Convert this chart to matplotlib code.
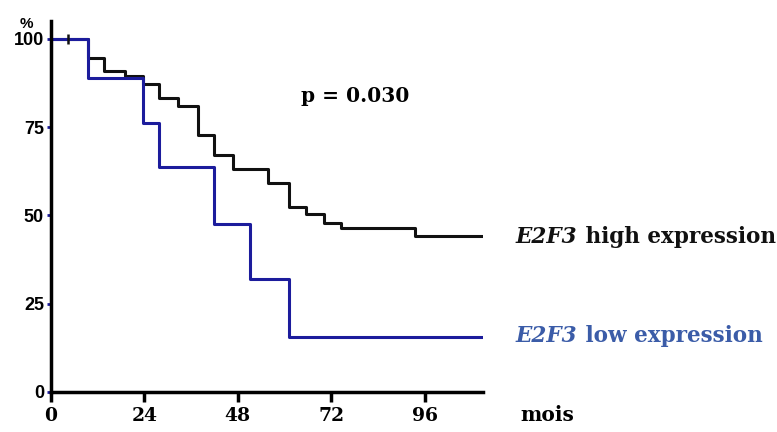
import matplotlib.pyplot as plt

# Kaplan-Meier steps (months, % survival)
t_high = [0, 9.5, 13.7, 19, 23.7, 27.8, 32.6, 37.8, 42, 46.8, 55.8, 61.2, 65.6, 70.2, 74.6, 93.6, 111]
s_high = [100, 94.6, 91, 89.5, 87.2, 83.3, 81, 72.8, 67.1, 63.2, 59.2, 52.4, 50.4, 47.9, 46.5, 44.2, 44.2]
t_low = [0, 9.5, 23.7, 27.8, 42, 51.2, 61.2, 111]
s_low = [100, 89, 76.2, 63.7, 47.6, 32, 15.6, 15.6]
censor_t = [4.3]
censor_s = [100]

x_ticks = [0, 24, 48, 72, 96]
y_ticks = [0, 25, 50, 75, 100]

fig = plt.figure(figsize=(7.77, 4.32), dpi=100)
ax = fig.add_axes([0.0656, 0.0926, 0.556, 0.858])

ax.step(t_high, s_high, where="post", color="#111111", lw=2.2)
ax.step(t_low, s_low, where="post", color="#1c1c9c", lw=2.2)
ax.plot(censor_t, censor_s, marker="|", color="#111111", ms=7, mew=1.8, ls="none")

ax.set_xlim(0, 111)
ax.set_ylim(0, 105)
ax.spines["top"].set_visible(False)
ax.spines["right"].set_visible(False)
ax.spines["left"].set_linewidth(2.5)
ax.spines["bottom"].set_linewidth(2.5)

ax.set_xticks(x_ticks)
ax.set_xticklabels([str(v) for v in x_ticks], family="DejaVu Serif", fontweight="bold", fontsize=13.5)
ax.tick_params(axis="x", length=7, width=2.5, pad=4)
ax.set_yticks(y_ticks)
ax.set_yticklabels([str(v) for v in y_ticks], family="Liberation Sans", fontweight="bold", fontsize=13)
ax.tick_params(axis="y", length=3, width=2, color="#1c1c9c", pad=2)

fig.text(0.034, 0.935, "%", family="Liberation Sans", fontweight="bold", fontsize=11, ha="center")
fig.text(0.670, 0.025, "mois", family="DejaVu Serif", fontweight="bold", fontsize=14.5)
fig.text(0.388, 0.765, "p = 0.030", family="DejaVu Serif", fontweight="bold", fontsize=14.5)

# group labels: italic gene name followed by plain bold text
for y, rest, col in [(0.427, " high expression", "#111111"), (0.196, " low expression", "#3b5ca8")]:
    t = fig.text(0.664, y, "E2F3", family="DejaVu Serif", fontweight="bold", style="italic",
                 fontsize=15.5, color=col, va="bottom")
    ax.annotate(rest, xy=(1, 0), xycoords=t, va="bottom", ha="left", family="DejaVu Serif",
                fontweight="bold", fontsize=15.5, color=col, annotation_clip=False)

plt.savefig("out.png", dpi=100)
